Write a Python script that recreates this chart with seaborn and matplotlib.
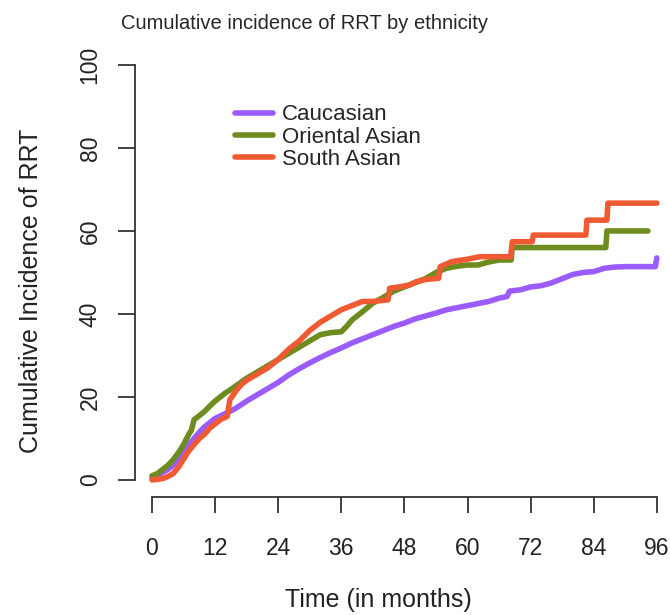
import pandas as pd
import matplotlib
matplotlib.use('Agg')
import matplotlib.pyplot as plt
import seaborn as sns

# cumulative incidence curves (months, %)
cauc_t = [0, 1, 2, 3, 4, 5, 6, 7, 8, 9, 10, 11, 12, 14, 16, 18, 20, 22, 24, 26, 28, 30,
          32, 34, 36, 38, 40, 42, 44, 46, 48, 50, 52, 54, 56, 58, 60, 62, 64, 66, 67.5,
          68, 70, 72, 74, 76, 78, 80, 82, 84, 86, 88, 90, 92, 94, 95.7, 96]
cauc_v = [0.5, 1, 1.8, 2.5, 3.5, 5, 7, 8.5, 10, 11.5, 12.8, 13.8, 14.8, 16, 17.3, 19, 20.5,
          22, 23.5, 25.3, 26.8, 28.2, 29.5, 30.7, 31.8, 33, 34, 35, 36, 37, 37.8, 38.8, 39.5,
          40.2, 41, 41.5, 42, 42.5, 43, 43.8, 44.2, 45.5, 45.8, 46.5, 46.8, 47.5, 48.5, 49.5,
          50, 50.2, 51, 51.3, 51.4, 51.4, 51.4, 51.4, 53.5]

orient_t = [0, 1, 2, 3, 4, 5, 6, 7, 7.5, 8, 9, 10, 11, 12, 13, 14, 15, 16, 18, 20, 22, 24,
            26, 28, 30, 32, 34, 36, 37, 38, 39, 40, 42, 44, 46, 48, 50, 52, 54, 56, 58, 60,
            62, 64, 66, 67.5, 68.3, 68.5, 86.3, 86.5, 94.3]
orient_v = [1, 1.5, 2.5, 3.5, 4.8, 6.5, 8.5, 11, 12, 14.5, 15.5, 16.5, 17.8, 19, 20, 21,
            21.8, 22.7, 24.5, 26, 27.5, 29, 30.5, 32, 33.5, 35, 35.5, 35.7, 37, 38.5, 39.5,
            40.5, 42.6, 44, 45.5, 46.5, 47.5, 48.5, 50, 51, 51.5, 51.8, 51.8, 52.5, 53, 53,
            53, 56, 56, 60, 60]

south_t = [0, 2, 3, 4, 5, 6, 7, 8, 9, 10, 11, 12, 13, 14.3, 14.8, 16, 17, 18, 20, 22, 24,
           26, 28, 30, 32, 34, 36, 38, 40, 42, 44.9, 45.2, 47, 49, 50.3, 52, 54.5, 54.8, 57,
           60, 62.4, 68.2, 68.5, 72.3, 72.5, 82.5, 82.7, 86.5, 86.7, 96]
south_v = [0, 0.3, 0.8, 1.5, 3, 5, 7, 8.5, 10, 11, 12.5, 13.5, 14.5, 15.3, 19.3, 21.5, 23,
           24, 25.5, 27, 29, 31.5, 33.5, 36, 38, 39.5, 41, 42, 43, 43, 43.4, 46.2, 46.5, 47,
           47.8, 48.3, 48.6, 51.4, 52.6, 53.2, 53.8, 53.8, 57.4, 57.4, 59, 59, 62.6, 62.6,
           66.7, 66.7]

groups = ['Caucasian', 'Oriental Asian', 'South Asian']
colors = ['#9B5CFF', '#6E8B1E', '#F05A32']
x_ticks = [0, 12, 24, 36, 48, 60, 72, 84, 96]
y_ticks = [0, 20, 40, 60, 80, 100]

df = pd.concat([
    pd.DataFrame({'time': cauc_t, 'inc': cauc_v, 'group': groups[0]}),
    pd.DataFrame({'time': orient_t, 'inc': orient_v, 'group': groups[1]}),
    pd.DataFrame({'time': south_t, 'inc': south_v, 'group': groups[2]}),
])

sns.set_style('white')
plt.rcParams['font.family'] = ['Liberation Sans', 'DejaVu Sans']

fig = plt.figure(figsize=(6.7, 6.15), dpi=100)
ax = fig.add_axes([0.2015, 0.192, 0.7985, 0.730])

sns.lineplot(data=df, x='time', y='inc', hue='group', hue_order=groups,
             palette=colors, linewidth=4, estimator=None, sort=False, ax=ax)

ax.set_xlim(-3.23, 98.5)
ax.set_ylim(-4.1, 104.1)
ax.set_xticks(x_ticks)
ax.set_yticks(y_ticks)
ax.set_yticklabels([str(v) for v in y_ticks], rotation=90, va='center')

for s in ['top', 'right']:
    ax.spines[s].set_visible(False)
ax.spines['left'].set_bounds(0, 100)
ax.spines['bottom'].set_bounds(0, 96)
for s in ['left', 'bottom']:
    ax.spines[s].set_color('#333333')
    ax.spines[s].set_linewidth(1.3)

ax.tick_params(axis='x', direction='out', length=11.5, width=1.3, color='#333333',
               labelsize=16.5, pad=17, labelcolor='#222222', bottom=True)
ax.tick_params(axis='y', direction='out', length=12, width=1.3, color='#333333',
               labelsize=16.5, pad=12, labelcolor='#222222', left=True)

ax.set_xlabel('Time (in months)', fontsize=18, color='#222222')
ax.set_ylabel('Cumulative Incidence of RRT', fontsize=18, color='#222222')
ax.xaxis.set_label_coords(0.454, -0.203)
ax.yaxis.set_label_coords(-0.172, 0.46)
fig.suptitle('Cumulative incidence of RRT by ethnicity', x=0.454, y=0.978, fontsize=14.5)

leg = ax.legend(loc='upper left', bbox_to_anchor=(0.17, 0.894), frameon=False,
                fontsize=16, handlelength=1.7, handletextpad=0.4, labelspacing=0.05,
                borderaxespad=0)
for h in leg.get_lines():
    h.set_linewidth(4)

fig.savefig('out.png', dpi=100)
